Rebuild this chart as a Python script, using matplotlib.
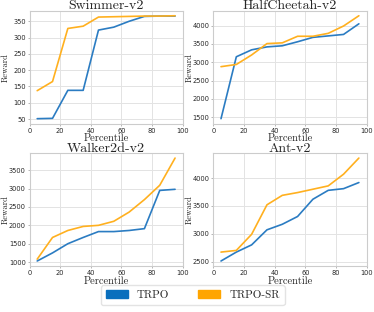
import matplotlib
matplotlib.use("Agg")
import matplotlib.pyplot as plt
import seaborn as sns
from matplotlib.patches import Patch

sns.set_style("whitegrid")

percentile = [5, 15, 25, 35, 45, 55, 65, 75, 85, 95]

envs = ["Swimmer-v2", "HalfCheetah-v2", "Walker2d-v2", "Ant-v2"]

swimmer_trpo = [51, 52, 138, 138, 323, 332, 350, 365, 366, 366]
swimmer_sr = [137, 165, 328, 335, 363, 364, 365, 366, 366, 367]

cheetah_trpo = [1460, 3150, 3340, 3420, 3450, 3560, 3680, 3720, 3760, 4050]
cheetah_sr = [2880, 2940, 3200, 3510, 3530, 3710, 3710, 3790, 3990, 4270]

walker_trpo = [1030, 1250, 1500, 1670, 1830, 1830, 1860, 1910, 2950, 2980]
walker_sr = [1080, 1670, 1860, 1970, 2000, 2110, 2360, 2700, 3090, 3830]

ant_trpo = [2510, 2670, 2800, 3070, 3170, 3310, 3620, 3780, 3810, 3920]
ant_sr = [2670, 2700, 2990, 3520, 3690, 3740, 3800, 3860, 4070, 4360]

trpo = [swimmer_trpo, cheetah_trpo, walker_trpo, ant_trpo]
trpo_sr = [swimmer_sr, cheetah_sr, walker_sr, ant_sr]

c_trpo = "#2b7cc2"
c_sr = "#ffb01f"
serif = "cmr10"

fig, axes = plt.subplots(2, 2, figsize=(3.74, 3.12), dpi=100)
fig.subplots_adjust(left=0.079, right=0.980, top=0.966, bottom=0.147,
                    wspace=0.2, hspace=0.257)

for i, ax in enumerate(axes.flat):
    ax.plot(percentile, trpo[i], color=c_trpo, lw=1.2)
    ax.plot(percentile, trpo_sr[i], color=c_sr, lw=1.2)
    ax.set_xlim(0, 100)
    ax.set_xticks([0, 20, 40, 60, 80, 100])
    ax.set_title(envs[i], fontfamily=serif, fontsize=10, pad=1)
    ax.set_xlabel("Percentile", fontfamily=serif, fontsize=7.5, labelpad=0.3)
    ax.set_ylabel("Reward", fontfamily=serif, fontsize=6.2)
    ax.yaxis.set_label_coords(-0.13, 0.5)
    ax.tick_params(labelsize=4.8, pad=1.2, length=1.5, width=0.6,
                   color="#aaaaaa", direction="out", left=True, bottom=True)
    ax.grid(color="#e3e3e3", lw=0.7)
    for s in ax.spines.values():
        s.set_color("#cccccc")
        s.set_linewidth(0.8)

axes[1, 1].set_yticks([2500, 3000, 3500, 4000])

handles = [Patch(color="#0a6fbd", label="TRPO"), Patch(color="#ffa500", label="TRPO-SR")]
leg = fig.legend(handles=handles, loc="center", bbox_to_anchor=(0.515, 0.054), ncol=2,
                 prop={"family": serif, "size": 8}, frameon=True, handlelength=2.0,
                 handleheight=0.6, columnspacing=2.6, borderpad=0.45)
leg.get_frame().set_edgecolor("#dddddd")

fig.savefig("out.png", dpi=100)
